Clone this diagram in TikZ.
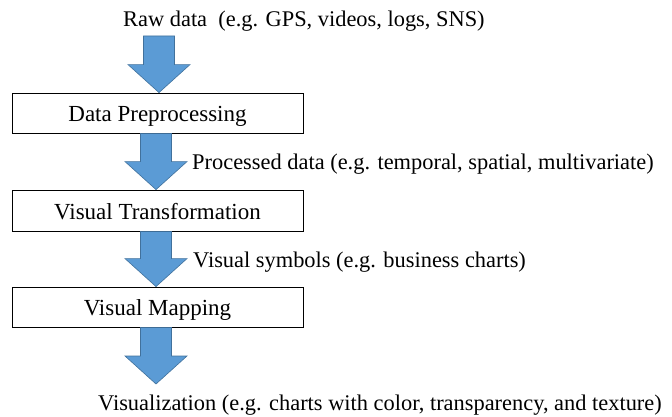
\documentclass[tikz,border=0pt]{standalone}
\usepackage{fontspec}
\setmainfont{Liberation Serif}
\usetikzlibrary{calc}
\definecolor{arrowfill}{HTML}{5B9BD5}
\definecolor{arrowline}{HTML}{41719C}
\tikzset{
  procbox/.style={draw=black, line width=0.8pt, fill=white, minimum width=291pt, inner sep=0pt, text height=17pt, text depth=0pt, font=\fontsize{23}{27}\selectfont},
  lbl/.style={anchor=base west, inner sep=0pt, font=\fontsize{22.4}{27}\selectfont},
  blockarr/.style={fill=arrowfill, draw=arrowline, line width=0.6pt, line join=miter}
}
\newcommand\blockarrow[2]{%
  \path[blockarr] let \p1=(#1), \p2=(#2) in
    (\x2-15.5pt,\y1) -- (\x2+15.5pt,\y1) -- (\x2+15.5pt,\y2+28pt) -- (\x2+31pt,\y2+28pt)
    -- (\x2,\y2) -- (\x2-31pt,\y2+28pt) -- (\x2-15.5pt,\y2+28pt) -- cycle;}
\begin{document}
\begin{tikzpicture}[x=1pt,y=-1pt]
\useasboundingbox (0,0) rectangle (672,417);
% boxes
\node[procbox, minimum height=40pt] (b1) at (157.5,113) {Data Preprocessing};
\node[procbox, minimum height=41pt] (b2) at (157.5,210.5) {Visual Transformation};
\node[procbox, minimum height=40pt] (b3) at (157.5,307) {Visual Mapping};
% labels
\node[lbl] (raw) at (123,27) {Raw data~~(e.g. GPS, videos, logs, SNS)};
\node[lbl] (proc) at (192,170) {Processed data (e.g. temporal, spatial, multivariate)};
\node[lbl] (sym) at (193,267) {Visual symbols (e.g. business charts)};
\node[lbl] (vis) at (98,410) {Visualization (e.g. charts with color, transparency, and texture)};
% arrow coordinates
\coordinate (a1s) at (159,36);
\coordinate (a1e) at ([xshift=1.5pt]b1.north);
\coordinate (a2s) at ([xshift=-1.5pt]b1.south);
\coordinate (a2e) at ([xshift=-1.5pt]b2.north);
\coordinate (a3s) at ([xshift=-1.5pt]b2.south);
\coordinate (a3e) at ([xshift=-1.5pt]b3.north);
\coordinate (a4s) at ([xshift=-1.5pt]b3.south);
\coordinate (a4e) at (156,384);
\blockarrow{a1s}{a1e}
\blockarrow{a2s}{a2e}
\blockarrow{a3s}{a3e}
\blockarrow{a4s}{a4e}
\end{tikzpicture}
\end{document}
